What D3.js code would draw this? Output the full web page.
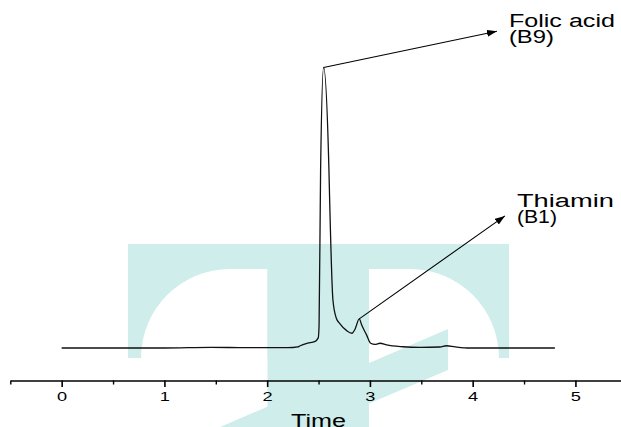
<!DOCTYPE html>
<html>
<head>
<meta charset="utf-8">
<script src="https://cdn.jsdelivr.net/npm/d3@7"></script>
<style>
  html, body { margin: 0; padding: 0; background: #fff; }
  svg { display: block; }
  text { font-family: "Liberation Sans", Arial, sans-serif; fill: #000; }
</style>
</head>
<body>
<svg id="chart" width="621" height="427"></svg>
<script>
// Axis ticks (retention time, min)
const majorTicks = [0, 1, 2, 3, 4, 5];
const minorTicks = [-0.5, 0.5, 1.5, 2.5, 3.5, 4.5, 5.5];

// Chromatogram trace: time (min) and relative detector signal (%)
const traceTime = [0, 0.5, 1.0, 1.45, 1.8, 2.2, 2.3, 2.316, 2.394, 2.462, 2.497, 2.505,
  2.52, 2.549, 2.601, 2.608, 2.64, 2.673, 2.705, 2.774, 2.825, 2.855, 2.896, 2.92,
  2.968, 3.007, 3.05, 3.098, 3.163, 3.32, 3.49, 3.68, 3.744, 3.83, 3.97, 4.3, 4.8];
const traceSignal = [0, 0, 0, 0.25, 0.1, 0.1, 0.4, 0.7, 1.7, 2.25, 3.6, 8,
  63.6, 100, 63.6, 52.9, 17.1, 10.6, 8.8, 6.2, 5.25, 6.7, 10.4, 8.2,
  4.6, 1.7, 1.3, 1.7, 1.1, 0.45, 0.2, 0.35, 0.8, 0.4, 0, 0, 0];

// Peak annotations
const peakNames = ["Folic acid", "Thiamin"];
const peakCodes = ["(B9)", "(B1)"];
const peakTime = [2.549, 2.896];
const peakSignal = [100, 10.4];
const arrowTime = [4.236, 4.314];
const arrowSignal = [112.9, 47.1];

const svg = d3.select("#chart");

// Background emblem
const teal = "#cfeeeb";
const bg = svg.append("g").attr("class", "emblem");
bg.append("rect").attr("x", 128).attr("y", 244).attr("width", 381).attr("height", 114).attr("fill", teal);
bg.append("path").attr("fill", "#fff").attr("d", "M141,358 A89,89 0 0 1 230,269 H267.5 V358 Z");
bg.append("path").attr("fill", "#fff").attr("d", "M369,269 H410 A89,89 0 0 1 499,358 H369 Z");
bg.append("rect").attr("x", 267.5).attr("y", 244).attr("width", 101.5).attr("height", 183).attr("fill", teal);
bg.append("path").attr("fill", teal).attr("d", "M448,329 L448,370 L314,427 L220,427 Z");

// Scales
const x = d3.scaleLinear().domain([-0.5, 5.5]).range([10.3, 626.8]);
const y = d3.scaleLinear().domain([0, 100]).range([348, 67.5]);

// X axis: minor ticks first, then labelled major ticks
const axisY = 380.5;
svg.append("g")
  .attr("transform", `translate(0,${axisY})`)
  .call(d3.axisBottom(x).tickValues(minorTicks).tickSize(4).tickSizeOuter(0).tickFormat(""))
  .call(g => g.selectAll("line").attr("stroke", "#000").attr("stroke-width", 1.4))
  .call(g => g.select(".domain").attr("stroke", "#000").attr("stroke-width", 1.6));

svg.append("g")
  .attr("transform", `translate(0,${axisY})`)
  .call(d3.axisBottom(x).tickValues(majorTicks).tickSize(6.5).tickSizeOuter(0).tickPadding(5).tickFormat(d3.format("d")))
  .call(g => g.select(".domain").remove())
  .call(g => g.selectAll("line").attr("stroke", "#000").attr("stroke-width", 1.6))
  .call(g => g.selectAll("text")
    .attr("font-size", 13)
    .attr("font-family", "'Liberation Sans', Arial, sans-serif")
    .attr("fill", "#000")
    .attr("transform", "scale(1.4,1)"));

// Axis title
svg.append("text")
  .attr("x", x(2.5)).attr("y", 427)
  .attr("text-anchor", "middle")
  .attr("font-size", 18)
  .attr("textLength", 55).attr("lengthAdjust", "spacingAndGlyphs")
  .text("Time");

// Trace
const pts = traceTime.map((t, i) => [t, traceSignal[i]]);
svg.append("path")
  .datum(pts)
  .attr("fill", "none")
  .attr("stroke", "#111")
  .attr("stroke-width", 1.3)
  .attr("stroke-linejoin", "round")
  .attr("d", d3.line().x(d => x(d[0])).y(d => y(d[1])).curve(d3.curveMonotoneX));

// Arrowhead marker
svg.append("defs").append("marker")
  .attr("id", "arrow")
  .attr("markerUnits", "userSpaceOnUse")
  .attr("markerWidth", 10).attr("markerHeight", 7)
  .attr("refX", 10).attr("refY", 3.5)
  .attr("orient", "auto")
  .append("path").attr("d", "M0,0 L10,3.5 L0,7 Z").attr("fill", "#000");

// Peak annotations
const labelDx = [12, 12];
const labelDy = [-4, -9];
const widthName = [106, 97];
const widthCode = [45, 40];
peakNames.forEach((name, i) => {
  const x0 = x(peakTime[i]), y0 = y(peakSignal[i]);
  const x1 = x(arrowTime[i]), y1 = y(arrowSignal[i]);
  svg.append("line")
    .attr("x1", x0).attr("y1", y0).attr("x2", x1).attr("y2", y1)
    .attr("stroke", "#000").attr("stroke-width", 1.1)
    .attr("marker-end", "url(#arrow)");
  const tx = x1 + labelDx[i], ty = y1 + labelDy[i];
  svg.append("text").attr("x", tx).attr("y", ty).attr("font-size", 18)
    .attr("textLength", widthName[i]).attr("lengthAdjust", "spacingAndGlyphs")
    .text(name);
  svg.append("text").attr("x", tx).attr("y", ty + 16).attr("font-size", 18)
    .attr("textLength", widthCode[i]).attr("lengthAdjust", "spacingAndGlyphs")
    .text(peakCodes[i]);
});
</script>
</body>
</html>
